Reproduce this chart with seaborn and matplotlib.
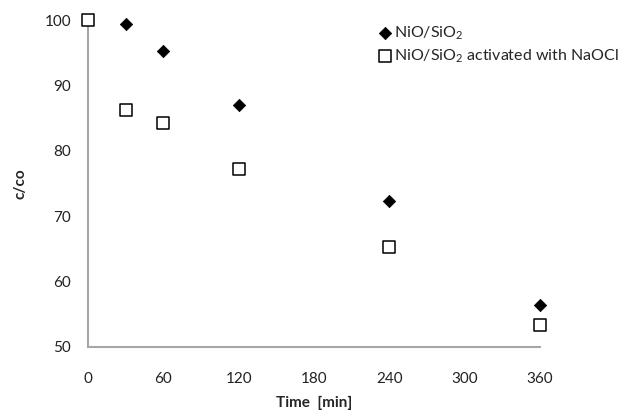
import matplotlib
matplotlib.use("Agg")
import matplotlib.pyplot as plt
import seaborn as sns
import pandas as pd

# Conversion over time for the two catalysts
time_nio = [30, 60, 120, 240, 360]
c_nio = [99.4, 95.3, 87.0, 72.3, 56.4]
time_act = [0, 30, 60, 120, 240, 360]
c_act = [100, 86.2, 84.2, 77.3, 65.3, 53.3]
series_names = ["NiO/SiO$_2$", "NiO/SiO$_2$ activated with NaOCl"]
x_ticks = [0, 60, 120, 180, 240, 300, 360]
y_ticks = [50, 60, 70, 80, 90, 100]

nio = pd.DataFrame({"time": time_nio, "c": c_nio})
act = pd.DataFrame({"time": time_act, "c": c_act})

sns.set_theme(style="white")
plt.rcParams["font.family"] = ["Lato", "DejaVu Sans"]
plt.rcParams["mathtext.fontset"] = "custom"
plt.rcParams["mathtext.rm"] = "Lato"

fig = plt.figure(figsize=(6.28, 4.12), dpi=100)
ax = fig.add_axes([0.140, 0.158, 0.720, 0.793])

sns.scatterplot(data=nio, x="time", y="c", marker="D", color="black",
                s=40, edgecolor="black", linewidth=0.5, ax=ax, clip_on=False,
                zorder=5, label=series_names[0])
sns.scatterplot(data=act, x="time", y="c", marker="s", color="white",
                s=85, edgecolor="black", linewidth=1.1, ax=ax, clip_on=False,
                zorder=5, label=series_names[1])

ax.set_xlim(0, 360)
ax.set_ylim(50, 100)
ax.set_xticks(x_ticks)
ax.set_yticks(y_ticks)
ax.tick_params(axis="x", length=0, labelsize=11, colors="#222222", pad=18)
ax.tick_params(axis="y", length=0, labelsize=11, colors="#222222", pad=12)

for side in ["top", "right"]:
    ax.spines[side].set_visible(False)
for side in ["left", "bottom"]:
    ax.spines[side].set_color("#a6a6a6")
    ax.spines[side].set_linewidth(1.5)

ax.set_xlabel("Time  [min]", fontsize=11, fontweight="bold", labelpad=7)
ax.set_ylabel("c/co", fontsize=11, fontweight="bold", labelpad=12)

ax.legend_.remove()
handles, labels = ax.get_legend_handles_labels()
fig.legend(handles, labels, loc="upper left",
           bbox_to_anchor=(378 / 628, 1 - 24 / 412),
           frameon=False, fontsize=11.5, handletextpad=0.1,
           handlelength=0.9, borderaxespad=0, borderpad=0,
           labelspacing=0.35)

fig.savefig("out.png", dpi=100)
